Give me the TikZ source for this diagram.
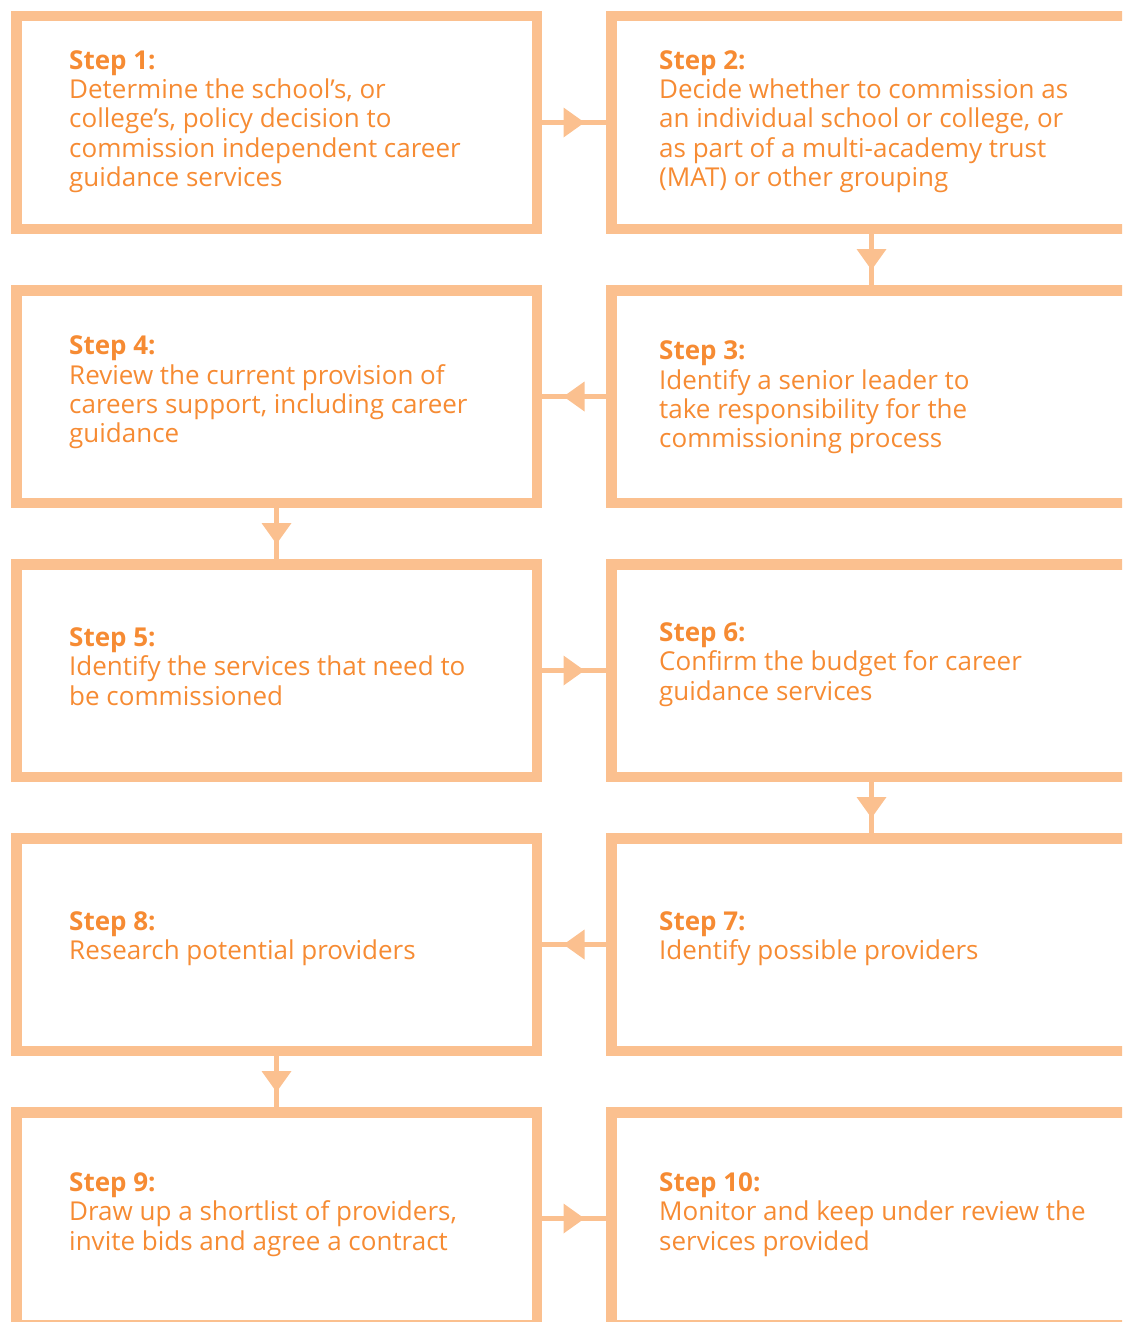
\documentclass[tikz,border=0pt]{standalone}
\usepackage{fontspec}
\setmainfont{Open Sans}
\usetikzlibrary{arrows.meta,positioning,decorations.markings}

\definecolor{steporange}{HTML}{F68B33}
\definecolor{boxorange}{HTML}{FBC08F}

\tikzset{
  box/.style={draw=boxorange, line width=10.5pt, minimum width=520.5pt,
    minimum height=212.5pt, inner sep=0pt},
  txt/.style={text=steporange, align=left, inner sep=0pt, yshift=4pt,
    font=\fontsize{26}{29.3}\selectfont},
  link/.style={draw=boxorange, line width=5pt, postaction={decorate},
    decoration={markings, mark=at position 0.5 with
      {\arrow[xshift=10.5pt]{Triangle[length=21pt,width=30pt,line width=0pt,color=boxorange]}}}}
}

\begin{document}
\begin{tikzpicture}[node distance=51pt and 64pt]
  \clip (0,0) rectangle (1122pt,-1322pt);

  % the ten boxes, two columns
  \node[box, anchor=north west] (1) at (11pt,-11pt) {};
  \node[box]         (2) [right=of 1] {};
  \node[box]         (4) [below=of 1] {};
  \node[box]         (3) [right=of 4] {};
  \node[box]         (5) [below=of 4] {};
  \node[box]         (6) [right=of 5] {};
  \node[box]         (8) [below=of 5] {};
  \node[box]         (7) [right=of 8] {};
  \node[box]         (9) [below=of 8] {};
  \node[box]         (10) [right=of 9] {};

  % texts
  \node[txt, yshift=-3pt] (t1) [right=58pt of 1.west] {\textbf{Step 1:}\\Determine the school’s, or\\college’s, policy decision to\\commission independent career\\guidance services};
  \node[txt, yshift=-3pt] (t2) [right=53pt of 2.west] {\textbf{Step 2:}\\Decide whether to commission as\\an individual school or college, or\\as part of a multi-academy trust\\(MAT) or other grouping};
  \node[txt, yshift=-5pt] (t3) [right=53pt of 3.west] {\textbf{Step 3:}\\Identify a senior leader to\\take responsibility for the\\commissioning process};
  \node[txt] (t4) [right=58pt of 4.west] {\textbf{Step 4:}\\Review the current provision of\\careers support, including career\\guidance};
  \node[txt] (t5) [right=58pt of 5.west] {\textbf{Step 5:}\\Identify the services that need to\\be commissioned};
  \node[txt, yshift=2pt] (t6) [right=53pt of 6.west] {\textbf{Step 6:}\\Confirm the budget for career\\guidance services};
  \node[txt, yshift=2pt] (t7) [right=53pt of 7.west] {\textbf{Step 7:}\\Identify possible providers};
  \node[txt, yshift=2pt] (t8) [right=58pt of 8.west] {\textbf{Step 8:}\\Research potential providers};
  \node[txt] (t9) [right=58pt of 9.west] {\textbf{Step 9:}\\Draw up a shortlist of providers,\\invite bids and agree a contract};
  \node[txt] (t10) [right=53pt of 10.west] {\textbf{Step 10:}\\Monitor and keep under review the\\services provided};

  % arrows between the steps
  \draw[link] (1) -- (2);
  \draw[link] (2) -- (3);
  \draw[link] (3) -- (4);
  \draw[link] (4) -- (5);
  \draw[link] (5) -- (6);
  \draw[link] (6) -- (7);
  \draw[link] (7) -- (8);
  \draw[link] (8) -- (9);
  \draw[link] (9) -- (10);
\end{tikzpicture}
\end{document}
